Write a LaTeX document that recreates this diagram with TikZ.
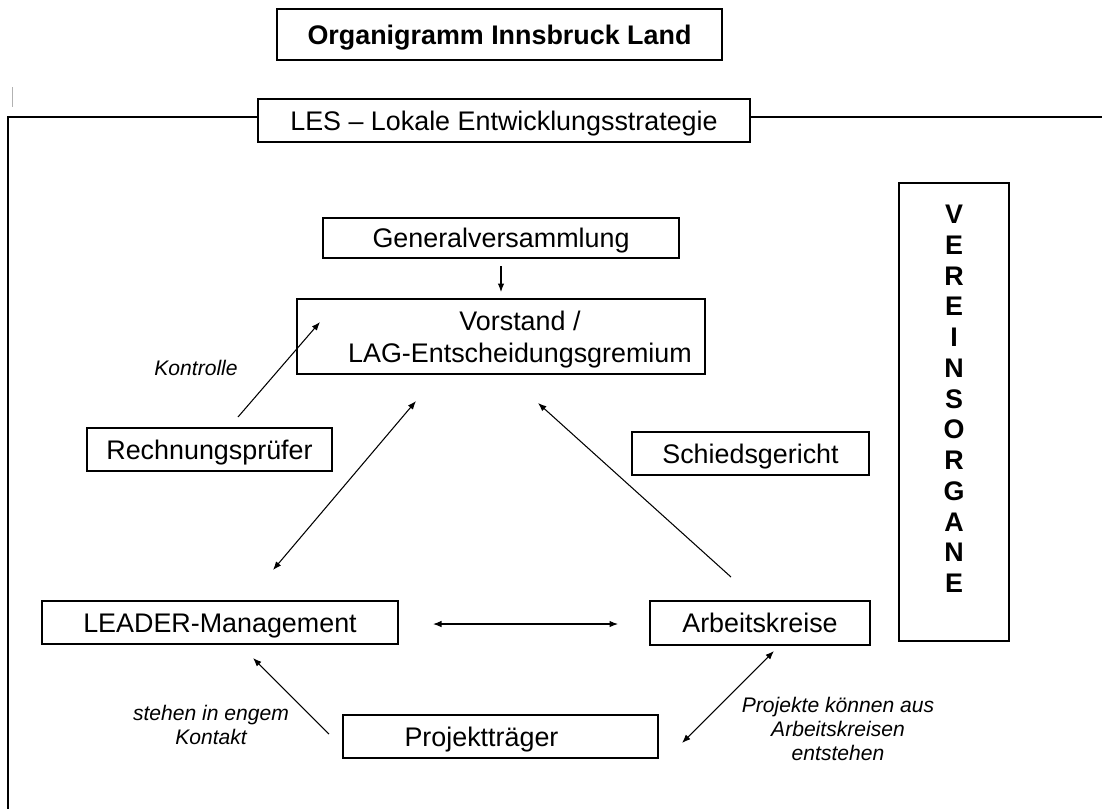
\documentclass[tikz,border=0pt]{standalone}
\usepackage{fontspec}
\setmainfont{Liberation Sans}
\usetikzlibrary{arrows.meta}
\begin{document}
\begin{tikzpicture}[x=0.02cm,y=-0.02cm,
  box/.style={draw,line width=0.8pt,rectangle,inner sep=0pt,font=\fontsize{15.3}{18.1}\selectfont,align=center,text height=10.95pt,text depth=0pt},
  lbl/.style={font=\fontsize{12}{13.6}\selectfont\itshape,align=center,inner sep=0pt},
  arr/.style={line width=0.6pt,-{Latex[length=1.7mm,width=1.3mm]}},
  darr/.style={line width=0.6pt,{Latex[length=1.7mm,width=1.3mm]}-{Latex[length=1.7mm,width=1.3mm]}},
  frame/.style={line width=1.3pt}]
\useasboundingbox (0,0) rectangle (1102,809);
% title
\node[box,minimum width=445*0.02cm,minimum height=51*0.02cm,font=\fontsize{15.3}{18}\selectfont\bfseries] (title) at (499.5,34.5) {Organigramm Innsbruck Land};
% cursor mark
\draw[gray!60,line width=0.5pt] (12,87) -- (12,107);
% LES
\node[box,minimum width=492*0.02cm,minimum height=43*0.02cm] (les) at (504,120.5) {LES – Lokale Entwicklungsstrategie};
\coordinate (fr) at (1102,117);
\coordinate (fl) at (8,117);
\coordinate (fb) at (8,809);
\draw[frame] (les.west |- fl) -- (fl) -- (fb);
\draw[frame] (les.east |- fr) -- (fr);
% Vereinsorgane
\node[box,minimum width=110*0.02cm,minimum height=458*0.02cm,font=\fontsize{15.3}{17.5}\selectfont\bfseries,text height=220.95pt,text depth=15.3pt] (verein) at (954,412) {V\\E\\R\\E\\I\\N\\S\\O\\R\\G\\A\\N\\E};
% main boxes
\node[box,minimum width=356*0.02cm,minimum height=40*0.02cm] (gv) at (501,238) {Generalversammlung};
\node[box,minimum width=408*0.02cm,minimum height=75*0.02cm,text height=29.05pt] (vor) at (501,336.5) {\hspace*{0.76cm}Vorstand /\\\hspace*{0.76cm}LAG-Entscheidungsgremium};
\node[box,minimum width=245*0.02cm,minimum height=43*0.02cm] (rp) at (209.5,449.5) {Rechnungsprüfer};
\node[box,minimum width=237*0.02cm,minimum height=43*0.02cm] (sg) at (750.5,453.5) {Schiedsgericht};
\node[box,minimum width=356*0.02cm,minimum height=43*0.02cm] (lm) at (220,622.5) {LEADER-Management};
\node[box,minimum width=220*0.02cm,minimum height=44*0.02cm] (ak) at (760,623) {Arbeitskreise};
\node[box,minimum width=315*0.02cm,minimum height=43*0.02cm] (pt) at (500.5,736.5) {Projektträger\hspace*{0.76cm}};
% labels
\node[lbl] (kon) at (196,368) {Kontrolle};
\node[lbl] (steh) at (211,725) {stehen in engem\\Kontakt};
\node[lbl] (proj) at (838,729) {Projekte können aus\\Arbeitskreisen\\entstehen};
% connector end points
\coordinate (a1s) at (501,266); \coordinate (a1e) at (501,292);
\coordinate (a2s) at (238,417); \coordinate (a2e) at (320,322);
\coordinate (a3s) at (273,570); \coordinate (a3e) at (416,401);
\coordinate (a4s) at (731,577); \coordinate (a4e) at (538,403);
\coordinate (a5s) at (433,624); \coordinate (a5e) at (618,624);
\coordinate (a6s) at (329,734); \coordinate (a6e) at (253,658);
\coordinate (a7s) at (682,743); \coordinate (a7e) at (774,651);
% connectors
\draw[arr] (a1s) -- (a1e);   % gv -> vor
\draw[arr] (a2s) -- (a2e);   % rp -> vor
\draw[darr] (a3s) -- (a3e);  % lm <-> vor
\draw[arr] (a4s) -- (a4e);   % ak -> vor
\draw[darr] (a5s) -- (a5e);  % lm <-> ak
\draw[arr] (a6s) -- (a6e);   % pt -> lm
\draw[darr] (a7s) -- (a7e);  % pt <-> ak
\end{tikzpicture}
\end{document}
